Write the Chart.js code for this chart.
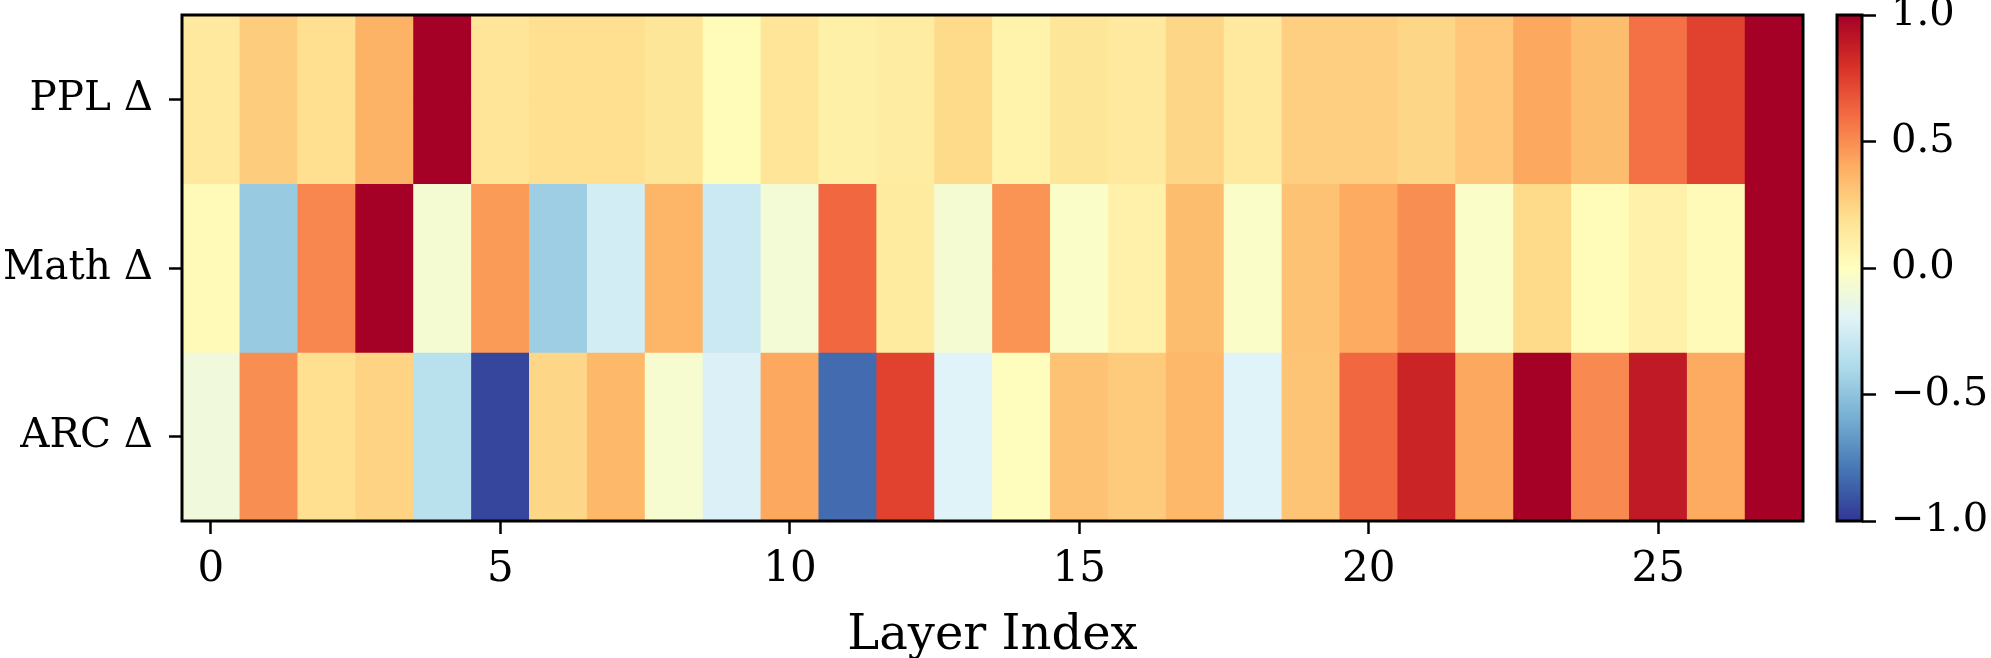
<!DOCTYPE html>
<html>
<head>
<meta charset="utf-8">
<script src="https://cdn.jsdelivr.net/npm/chart.js@4.4.0/dist/chart.umd.min.js"></script>
<style>
  html, body { margin: 0; padding: 0; background: #fff; }
  #wrap { position: relative; width: 1991px; height: 658px; overflow: hidden; }
  #heat { position: absolute; left: 0; top: 0; }
  #cbar { position: absolute; left: 1820px; top: 0; }
</style>
</head>
<body>
<div id="wrap">
  <canvas id="heat" width="1820" height="658"></canvas>
  <canvas id="cbar" width="171" height="658"></canvas>
</div>
<script>
// data
const layers = [0, 1, 2, 3, 4, 5, 6, 7, 8, 9, 10, 11, 12, 13, 14, 15, 16, 17, 18, 19, 20, 21, 22, 23, 24, 25, 26, 27];
const rowLabels = ["PPL Δ", "Math Δ", "ARC Δ"];
const pplDelta = [0.14, 0.28, 0.2, 0.38, 1.0, 0.17, 0.2, 0.2, 0.16, 0.02, 0.17, 0.1, 0.12, 0.22, 0.08, 0.16, 0.14, 0.24, 0.14, 0.27, 0.27, 0.24, 0.3, 0.42, 0.34, 0.59, 0.74, 1.0];
const mathDelta = [0.03, -0.47, 0.52, 1.0, -0.07, 0.46, -0.45, -0.25, 0.37, -0.28, -0.08, 0.62, 0.13, -0.07, 0.48, -0.03, 0.09, 0.34, -0.03, 0.32, 0.41, 0.5, -0.03, 0.22, 0.02, 0.09, 0.03, 1.0];
const arcDelta = [-0.1, 0.5, 0.2, 0.25, -0.35, -0.95, 0.24, 0.36, -0.06, -0.22, 0.42, -0.83, 0.74, -0.2, 0.01, 0.32, 0.29, 0.36, -0.2, 0.31, 0.62, 0.85, 0.42, 1.0, 0.51, 0.89, 0.41, 1.0];
const xTicks = [0, 5, 10, 15, 20, 25];
const cbarTicks = [-1, -0.5, 0, 0.5, 1];

// RdYlBu_r anchors, from -1 to 1
const cmap = [
  [49, 54, 149], [69, 117, 180], [116, 173, 209], [171, 217, 233], [224, 243, 248],
  [255, 255, 191], [254, 224, 144], [253, 174, 97], [244, 109, 67], [215, 48, 39], [165, 0, 38]
];

function colorFor(v) {
  let t = (Math.max(-1, Math.min(1, v)) + 1) / 2 * (cmap.length - 1);
  let i = Math.min(Math.floor(t), cmap.length - 2);
  let f = t - i;
  let c = cmap[i].map((a, k) => Math.round(a + (cmap[i + 1][k] - a) * f));
  return `rgb(${c[0]},${c[1]},${c[2]})`;
}

// black box round the plot area (matplotlib spines)
const framePlugin = {
  id: "frame",
  afterDraw(chart) {
    const { ctx, chartArea: a } = chart;
    ctx.save();
    ctx.strokeStyle = "#000";
    ctx.lineWidth = 3;
    ctx.strokeRect(a.left, a.top, a.right - a.left, a.bottom - a.top);
    ctx.restore();
  }
};

const serif = "'DejaVu Serif', serif";
const rows = [pplDelta, mathDelta, arcDelta];

new Chart(document.getElementById("heat"), {
  type: "bar",
  data: {
    datasets: rows.map((vals, r) => ({
      label: rowLabels[r],
      data: layers.map(l => ({ x: l, y: [r, r + 1] })),
      backgroundColor: vals.map(colorFor),
      borderWidth: 0,
      grouped: false,
      barPercentage: 1,
      categoryPercentage: 1
    }))
  },
  options: {
    responsive: false,
    animation: false,
    devicePixelRatio: 1,
    layout: { padding: { top: 15, right: 17, left: 0, bottom: 0 } },
    plugins: { legend: { display: false }, tooltip: { enabled: false } },
    scales: {
      x: {
        type: "linear",
        min: -0.5,
        max: 27.5,
        offset: false,
        z: 1,
        afterBuildTicks: s => { s.ticks = xTicks.map(v => ({ value: v })); },
        afterFit: s => { s.height = 137; s.paddingLeft = 0; s.paddingRight = 0; },
        ticks: { font: { family: serif, size: 42 }, color: "#000", padding: 11, maxRotation: 0 },
        grid: { offset: false, color: "rgba(128,128,128,0.3)", lineWidth: 3, tickColor: "#000", tickWidth: 2.5, tickLength: 13 },
        border: { display: false },
        title: { display: true, text: "Layer Index", font: { family: serif, size: 48, lineHeight: 0.9 }, color: "#000", padding: { top: 0, bottom: 0 } }
      },
      y: {
        type: "linear",
        min: 0,
        max: 3,
        reverse: true,
        offset: false,
        z: 1,
        afterBuildTicks: s => { s.ticks = rowLabels.map((t, i) => ({ value: i + 0.5 })); },
        afterFit: s => { s.width = 182; s.paddingTop = 0; s.paddingBottom = 0; },
        ticks: {
          font: { family: serif, size: 40.5 },
          color: "#000",
          padding: 16,
          callback: v => rowLabels[Math.floor(v)]
        },
        grid: { offset: false, color: "rgba(128,128,128,0.3)", lineWidth: 3, tickColor: "#000", tickWidth: 2.5, tickLength: 13 },
        border: { display: false }
      }
    }
  },
  plugins: [framePlugin]
});

// colorbar
new Chart(document.getElementById("cbar"), {
  type: "bar",
  data: {
    labels: ["cbar"],
    datasets: [{
      data: [[-1, 1]],
      borderWidth: 0,
      barPercentage: 1,
      categoryPercentage: 1,
      backgroundColor: ctx => {
        const a = ctx.chart.chartArea;
        if (!a) return "#fff";
        const g = ctx.chart.ctx.createLinearGradient(0, a.bottom, 0, a.top);
        cmap.forEach((c, i) => g.addColorStop(i / (cmap.length - 1), `rgb(${c[0]},${c[1]},${c[2]})`));
        return g;
      }
    }]
  },
  options: {
    responsive: false,
    animation: false,
    devicePixelRatio: 1,
    layout: { padding: { top: 15, right: 0, left: 17, bottom: 137 } },
    plugins: { legend: { display: false }, tooltip: { enabled: false } },
    scales: {
      x: { display: false },
      y: {
        position: "right",
        min: -1,
        max: 1,
        afterBuildTicks: s => { s.ticks = cbarTicks.map(v => ({ value: v })); },
        afterFit: s => { s.width = 129; s.paddingTop = 0; s.paddingBottom = 0; },
        ticks: {
          font: { family: serif, size: 40 },
          color: "#000",
          padding: 15,
          callback: v => (v < 0 ? "\u2212" : "") + Math.abs(v).toFixed(1)
        },
        grid: { drawOnChartArea: false, tickColor: "#000", tickWidth: 2.5, tickLength: 14 },
        border: { display: false }
      }
    }
  },
  plugins: [framePlugin]
});
</script>
</body>
</html>
